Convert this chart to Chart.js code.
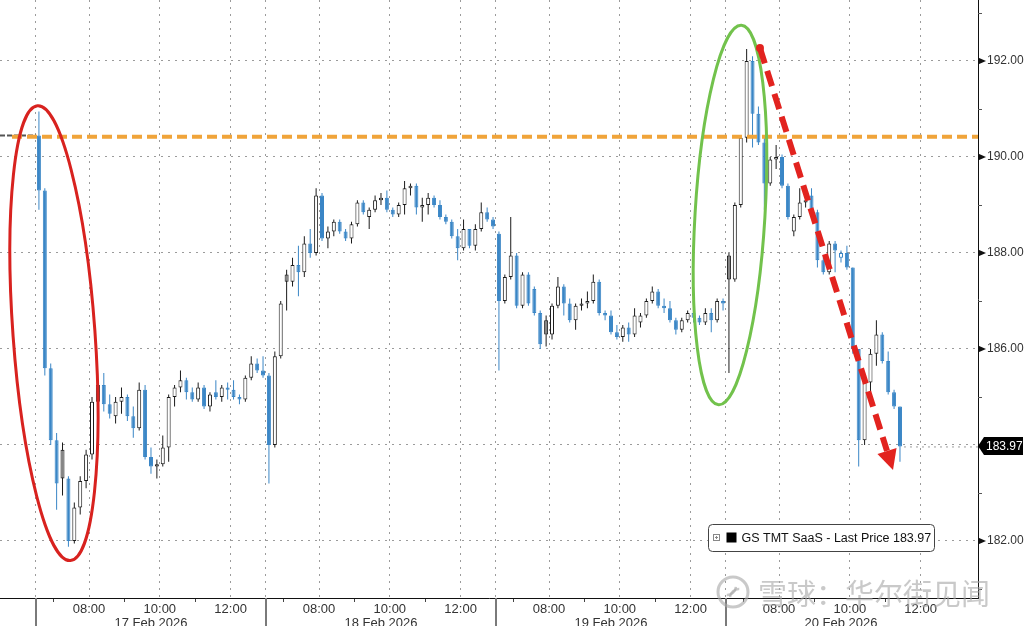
<!DOCTYPE html>
<html>
<head>
<meta charset="utf-8">
<title>GS TMT SaaS</title>
<script src="https://cdn.jsdelivr.net/npm/chart.js@4.4.1/dist/chart.umd.min.js"></script>
<style>
    html, body { margin: 0; padding: 0; background: #fff; }
    #wrap { position: relative; width: 1024px; height: 626px; }
</style>
</head>
<body>
<div id="wrap"><canvas id="priceChart" width="1024" height="626"></canvas></div>
<script>
// sessions & axis
var sessions = ['17 Feb 2026', '18 Feb 2026', '19 Feb 2026', '20 Feb 2026'];
var barsPerSession = [39, 39, 39, 30];      // 10 min bars
var sessionStart = '06:30';
var sessionLength = 390;                     // minutes per session
var barMinutes = 10;
var minorTimes = ['07:00', '09:00', '11:00'];
var labelTimes = ['08:00', '10:00', '12:00'];
var yTicks = [182, 184, 186, 188, 190, 192];

var seriesName = 'GS TMT SaaS';
var prevClose = 190.45;
var refLevel = 190.42;        // orange dashed line
var lastPrice = 183.97;

// OHLC, one row per session
var openP = [
    190.45,189.30,185.60,184.10,183.90,183.30,182.00,182.70,183.25,183.80,184.90,185.25,184.85,184.60,184.90,185.00,184.60,184.35,185.15,183.75,183.55,183.60,183.95,185.00,185.20,185.35,185.10,184.95,185.20,184.80,185.10,185.00,185.20,185.15,185.00,184.95,185.40,185.70,185.55,
    185.45,184.00,185.85,187.55,187.40,187.75,187.60,188.20,188.00,189.20,188.30,188.45,188.65,188.45,188.30,188.60,189.05,188.75,188.90,189.10,189.15,188.90,188.80,189.00,189.35,189.40,188.95,189.00,189.15,189.00,188.75,188.65,188.35,188.10,188.50,188.15,188.50,188.85,188.70,
    188.40,187.00,187.50,187.95,186.90,187.55,187.25,186.75,186.60,186.30,186.90,187.30,186.95,186.60,186.90,186.95,187.00,187.40,186.75,186.70,186.35,186.25,186.45,186.30,186.55,186.70,187.00,187.20,186.90,186.85,186.60,186.40,186.60,186.75,186.65,186.55,186.75,186.60,187.00,
    187.95,187.45,189.00,190.40,192.00,190.90,190.30,189.45,189.95,190.00,189.40,188.45,188.75,189.05,189.20,188.85,187.85,187.60,188.20,187.90,188.00,187.70,186.00,184.10,185.30,185.90,186.30,185.75,185.10,184.80
];
var highP = [
    190.95,189.35,185.70,184.25,184.05,183.35,182.80,183.35,183.90,185.00,185.30,185.50,185.05,185.00,185.20,185.05,184.80,185.30,185.25,183.95,183.70,184.20,185.05,185.25,185.55,185.40,185.20,185.30,185.25,185.10,185.35,185.25,185.30,185.35,185.05,185.45,185.85,185.80,185.85,
    185.50,185.95,187.00,187.65,187.90,188.15,188.35,188.50,189.35,189.25,188.55,188.70,188.70,188.50,188.65,189.10,189.10,188.95,189.20,189.25,189.30,188.95,189.05,189.50,189.45,189.45,189.15,189.25,189.20,189.10,188.80,188.70,188.50,188.70,188.50,188.60,189.05,188.95,188.75,
    188.45,187.55,188.75,188.00,187.60,187.60,187.30,186.80,186.70,186.95,187.50,187.35,187.05,186.95,187.05,187.20,187.55,187.45,186.80,186.80,186.50,186.50,186.55,186.85,186.75,187.05,187.30,187.25,187.05,187.00,186.65,186.65,186.80,186.90,186.70,186.85,186.85,187.05,187.05,
    188.00,189.05,190.45,192.25,192.10,191.05,190.40,190.00,190.25,190.05,189.45,188.80,189.35,189.40,189.35,188.90,187.95,188.25,188.25,188.05,188.15,187.70,186.00,185.45,186.00,186.60,186.35,185.95,185.15,184.80
];
var lowP = [
    188.90,185.45,184.00,182.65,182.95,181.88,181.95,182.55,183.10,183.70,184.85,184.70,184.55,184.45,184.65,184.50,184.15,184.30,183.70,183.40,183.30,183.55,183.65,184.80,185.10,184.95,184.90,184.90,184.75,184.70,184.95,184.90,184.95,184.95,184.85,184.90,185.35,185.50,185.40,
    183.20,183.95,185.80,186.80,187.30,187.10,187.50,187.90,187.95,188.25,188.10,188.35,188.40,188.25,188.20,188.55,188.80,188.50,188.85,189.00,188.85,188.75,188.75,188.80,189.20,188.80,188.65,188.80,188.95,188.70,188.60,188.30,187.85,188.05,188.10,188.05,188.45,188.65,188.50,
    185.55,186.95,187.45,186.85,186.85,186.90,186.70,186.00,186.05,186.20,186.85,186.70,186.55,186.40,186.80,186.85,186.95,186.70,186.60,186.30,186.20,186.15,186.15,186.25,186.45,186.65,186.95,186.85,186.75,186.55,186.30,186.35,186.55,186.55,186.50,186.50,186.35,186.55,186.80,
    185.50,187.40,188.95,190.30,190.20,190.25,188.90,189.40,189.75,189.35,188.70,188.35,188.70,188.95,188.80,187.70,187.55,187.55,187.60,187.80,187.65,185.90,183.55,184.00,185.00,185.65,185.70,185.05,184.75,183.65
];
var closeP = [
    189.30,185.60,184.10,183.20,183.30,182.00,182.70,183.25,183.80,184.90,185.25,184.85,184.65,184.90,185.00,184.60,184.35,185.15,183.75,183.55,183.60,183.95,185.00,185.20,185.35,185.10,184.95,185.20,184.80,185.05,185.00,185.20,185.15,185.00,184.95,185.40,185.70,185.55,185.45,
    184.00,185.85,186.95,187.40,187.75,187.60,188.20,188.00,189.20,188.30,188.45,188.65,188.45,188.30,188.60,189.05,188.85,188.90,189.10,189.15,188.90,188.80,189.00,189.35,189.40,188.95,189.00,189.15,189.00,188.75,188.65,188.35,188.10,188.50,188.15,188.50,188.85,188.70,188.55,
    187.00,187.50,187.95,186.90,187.55,186.95,186.75,186.10,186.30,186.90,187.30,186.95,186.60,186.90,186.95,187.00,187.40,186.75,186.70,186.35,186.25,186.45,186.30,186.70,186.70,187.00,187.20,186.90,186.85,186.60,186.40,186.60,186.75,186.65,186.55,186.75,186.60,187.00,186.95,
    187.45,189.00,190.40,192.00,190.90,190.30,189.45,189.95,190.00,189.40,188.75,188.75,189.05,189.10,188.85,187.85,187.60,188.20,188.05,188.00,187.70,186.00,184.10,185.30,185.90,186.30,185.75,185.10,184.80,183.97
];

// overlays drawn on the picture, in (minutes from first session open, price)
var redOval = { t: 30.5, p: 186.33, rt: 69.5, rp: 4.75, tilt: -0.072, color: '#d8221f' };
var greenOval = { t: 1176.8, p: 188.79, rt: 59.3, rp: 3.96, tilt: 0.06, color: '#72c24c' };
var arrow = { from: { t: 1227.6, p: 192.27 }, to: { t: 1453.2, p: 183.48 }, color: '#e2231f' };


function toMin(s) {
    var a = s.split(':'), b = sessionStart.split(':');
    return (+a[0] * 60 + +a[1]) - (+b[0] * 60 + +b[1]);
}

var barX = [];
barsPerSession.forEach(function(n, d) {
    for (var k = 0; k < n; k++) barX.push(d * sessionLength + k * barMinutes + barMinutes / 2);
});

var bodies = barX.map(function(x, i) { return { x: x, y: [openP[i], closeP[i]] }; });
var wicks = barX.map(function(x, i) { return { x: x, y: [lowP[i], highP[i]] }; });

var BLUE = '#3a86c6';
function candleStyle(i) {
    if (i === undefined) return { fill: BLUE, line: BLUE };
    var prev = i > 0 ? closeP[i - 1] : prevClose;
    var dark = closeP[i] >= prev;
    var hollow = closeP[i] >= openP[i];
    var line = dark ? '#1b1b1b' : BLUE;
    var fill = hollow ? '#ffffff' : (dark ? '#858585' : BLUE);
    return { fill: fill, line: line };
}

// tick kinds for the time axis
var tickKind = {};
sessions.forEach(function(s, d) {
    var base = d * sessionLength;
    tickKind[base] = 'session';
    minorTimes.forEach(function(t) { tickKind[base + toMin(t)] = 'minor'; });
    labelTimes.forEach(function(t) { tickKind[base + toMin(t)] = 'label'; });
});
function kindOf(ctx) {
    return ctx && ctx.tick ? tickKind[ctx.tick.value] : undefined;
}

var GRID = '#9b9b9b';
var TEXT = '#333333';

var overlays = {
    id: 'overlays',
    afterDatasetsDraw: function(chart) {
        var ctx = chart.ctx, a = chart.chartArea, x = chart.scales.x, y = chart.scales.y;
        ctx.save();
        ctx.beginPath();
        ctx.rect(a.left, a.top, a.right - a.left, a.bottom - a.top);
        ctx.clip();

        // last price dotted line to the axis
        var ly = y.getPixelForValue(lastPrice);
        ctx.strokeStyle = GRID; ctx.lineWidth = 1; ctx.setLineDash([2, 4]);
        ctx.beginPath(); ctx.moveTo(x.getPixelForValue(barX[barX.length - 1]) + 4, ly + 0.5); ctx.lineTo(a.right, ly + 0.5); ctx.stroke();

        // prior close stub
        var py = y.getPixelForValue(prevClose);
        ctx.strokeStyle = '#555'; ctx.lineWidth = 2; ctx.setLineDash([5, 2]);
        ctx.beginPath(); ctx.moveTo(a.left, py); ctx.lineTo(x.getPixelForValue(0), py); ctx.stroke();

        // orange reference line
        var ry = y.getPixelForValue(refLevel);
        ctx.strokeStyle = '#f0a43a'; ctx.lineWidth = 4; ctx.setLineDash([10, 5]);
        ctx.beginPath(); ctx.moveTo(a.left + 12, ry); ctx.lineTo(a.right, ry); ctx.stroke();

        // ovals
        [redOval, greenOval].forEach(function(o) {
            var cx = x.getPixelForValue(o.t), cy = y.getPixelForValue(o.p);
            var rx = Math.abs(x.getPixelForValue(o.t + o.rt) - cx);
            var rr = Math.abs(y.getPixelForValue(o.p + o.rp) - cy);
            ctx.setLineDash([]);
            ctx.strokeStyle = o.color; ctx.lineWidth = 3;
            ctx.beginPath(); ctx.ellipse(cx, cy, rx, rr, o.tilt, 0, Math.PI * 2); ctx.stroke();
        });

        // red dashed arrow
        var x1 = x.getPixelForValue(arrow.from.t), y1 = y.getPixelForValue(arrow.from.p);
        var x2 = x.getPixelForValue(arrow.to.t), y2 = y.getPixelForValue(arrow.to.p);
        var ang = Math.atan2(y2 - y1, x2 - x1);
        var head = 20, half = 10;
        var bx = x2 - head * Math.cos(ang), by = y2 - head * Math.sin(ang);
        ctx.strokeStyle = arrow.color; ctx.fillStyle = arrow.color;
        ctx.lineWidth = 6; ctx.setLineDash([16, 8]);
        ctx.beginPath(); ctx.moveTo(x1, y1); ctx.lineTo(bx, by); ctx.stroke();
        ctx.setLineDash([]);
        ctx.beginPath();
        ctx.moveTo(x2, y2);
        ctx.lineTo(bx + half * Math.sin(ang), by - half * Math.cos(ang));
        ctx.lineTo(bx - half * Math.sin(ang), by + half * Math.cos(ang));
        ctx.closePath(); ctx.fill();
        ctx.beginPath(); ctx.arc(x1, y1, 4, 0, Math.PI * 2); ctx.fill();
        ctx.restore();
    },
    afterDraw: function(chart) {
        var ctx = chart.ctx, a = chart.chartArea, x = chart.scales.x, y = chart.scales.y;
        var H = chart.height;
        ctx.save();

        // session separators under the axis + dates
        ctx.font = '13px "Liberation Sans", Arial, sans-serif';
        ctx.textAlign = 'center'; ctx.textBaseline = 'alphabetic';
        sessions.forEach(function(s, d) {
            var sx = Math.round(x.getPixelForValue(d * sessionLength));
            ctx.fillStyle = '#7a7a7a';
            ctx.fillRect(sx - 1, a.bottom, 2, H - a.bottom);
            ctx.fillStyle = TEXT;
            ctx.fillText(s, x.getPixelForValue(d * sessionLength + sessionLength / 2), 627);
        });

        // y axis markers: triangles on labelled ticks, short ticks on odd values
        ctx.fillStyle = '#111';
        yTicks.forEach(function(v) {
            if (Math.abs(v - lastPrice) < 0.3) return;
            var ty = y.getPixelForValue(v);
            ctx.beginPath(); ctx.moveTo(a.right, ty - 3.5); ctx.lineTo(a.right + 8, ty); ctx.lineTo(a.right, ty + 3.5); ctx.closePath(); ctx.fill();
        });
        ctx.strokeStyle = '#555'; ctx.lineWidth = 1;
        yTicks.forEach(function(v) {
            var ty = Math.round(y.getPixelForValue(v + 1)) + 0.5;
            if (ty > a.top && ty < a.bottom) { ctx.beginPath(); ctx.moveTo(a.right, ty); ctx.lineTo(a.right + 4, ty); ctx.stroke(); }
        });
        var ty0 = Math.round(y.getPixelForValue(yTicks[0] - 1)) + 0.5;
        ctx.beginPath(); ctx.moveTo(a.right, ty0); ctx.lineTo(a.right + 4, ty0); ctx.stroke();

        // last price tag
        var ly = Math.round(y.getPixelForValue(lastPrice));
        ctx.fillStyle = '#000';
        ctx.beginPath();
        ctx.moveTo(a.right, ly); ctx.lineTo(a.right + 6, ly - 9); ctx.lineTo(1023, ly - 9);
        ctx.lineTo(1023, ly + 9); ctx.lineTo(a.right + 6, ly + 9); ctx.closePath(); ctx.fill();
        ctx.fillStyle = '#fff';
        ctx.font = '12px "Liberation Sans", Arial, sans-serif';
        ctx.textAlign = 'left'; ctx.textBaseline = 'middle';
        ctx.fillText(lastPrice.toFixed(2), a.right + 8, ly + 0.5);

        // legend box
        var lx = 708.5, lt = 524.5, lw = 226, lh = 27;
        ctx.fillStyle = '#fff'; ctx.strokeStyle = '#444'; ctx.lineWidth = 1;
        ctx.beginPath(); ctx.roundRect(lx, lt, lw, lh, 4); ctx.fill(); ctx.stroke();
        ctx.strokeStyle = '#888';
        ctx.strokeRect(lx + 5, lt + 10, 6, 6);
        ctx.beginPath(); ctx.moveTo(lx + 6.5, lt + 13); ctx.lineTo(lx + 9.5, lt + 13); ctx.moveTo(lx + 8, lt + 11.5); ctx.lineTo(lx + 8, lt + 14.5); ctx.stroke();
        ctx.fillStyle = '#000';
        ctx.fillRect(lx + 18, lt + 8, 10, 10);
        ctx.fillStyle = '#111';
        ctx.font = '12.5px "Liberation Sans", Arial, sans-serif';
        ctx.textAlign = 'left'; ctx.textBaseline = 'middle';
        ctx.fillText(seriesName + ' - Last Price ' + lastPrice.toFixed(2), lx + 33, lt + 14);

        // watermark
        ctx.strokeStyle = 'rgba(165,165,165,0.6)'; ctx.fillStyle = 'rgba(165,165,165,0.6)';
        ctx.lineWidth = 3;
        ctx.beginPath(); ctx.arc(733, 592, 15, 0, Math.PI * 2); ctx.stroke();
        ctx.lineWidth = 2.5;
        ctx.beginPath(); ctx.arc(727, 586, 9, 0.1, 1.6); ctx.stroke();
        ctx.beginPath(); ctx.arc(739, 598, 9, Math.PI + 0.1, Math.PI + 1.6); ctx.stroke();
        ctx.font = '29px "Noto Sans CJK SC", sans-serif';
        ctx.textAlign = 'left'; ctx.textBaseline = 'middle';
        ctx.fillText('雪球：华尔街见闻', 758, 594);
        ctx.restore();
    }
};

Chart.defaults.font.family = '"Liberation Sans", Arial, sans-serif';

var chart = new Chart(document.getElementById('priceChart'), {
    type: 'bar',
    data: {
        datasets: [{
            label: 'body',
            data: bodies,
            order: 1,
            grouped: false,
            barThickness: 4,
            borderWidth: 1,
            borderSkipped: false,
            minBarLength: 1,
            inflateAmount: 0,
            backgroundColor: function(c) { return candleStyle(c.dataIndex).fill; },
            borderColor: function(c) { return candleStyle(c.dataIndex).line; }
        }, {
            label: 'wick',
            data: wicks,
            order: 2,
            grouped: false,
            barThickness: 1,
            borderWidth: 0,
            inflateAmount: 0,
            backgroundColor: function(c) { return candleStyle(c.dataIndex).line; }
        }]
    },
    options: {
        responsive: false,
        animation: false,
        devicePixelRatio: 1,
        layout: { padding: 0 },
        plugins: {
            legend: { display: false },
            tooltip: { enabled: false }
        },
        scales: {
            x: {
                type: 'linear',
                position: 'bottom',
                offset: false,
                min: -61,
                max: 1597.3,
                afterBuildTicks: function(scale) {
                    scale.ticks = Object.keys(tickKind).map(Number).sort(function(p, q) { return p - q; })
                        .map(function(v) { return { value: v }; });
                },
                afterFit: function(scale) {
                    scale.height = 28;
                    scale.paddingLeft = 0; scale.paddingRight = 0;
                },
                grid: {
                    offset: false,
                    color: function(c) { var k = kindOf(c); return (k === 'label' || k === 'session') ? GRID : 'rgba(0,0,0,0)'; },
                    lineWidth: 1,
                    drawTicks: true,
                    tickLength: 4,
                    tickColor: function(c) { return kindOf(c) === 'minor' ? '#444' : 'rgba(0,0,0,0)'; }
                },
                border: { display: true, color: '#111', width: 1, dash: [2, 5] },
                ticks: {
                    autoSkip: false,
                    maxRotation: 0,
                    padding: 0,
                    color: TEXT,
                    font: { size: 13 },
                    callback: function(v) { return tickKind[v] === 'label' ? labelTimes[labelTimes.map(toMin).indexOf(((v % sessionLength) + sessionLength) % sessionLength)] : ''; }
                }
            },
            y: {
                type: 'linear',
                position: 'right',
                min: 180.8125,
                max: 193.2708,
                afterBuildTicks: function(scale) {
                    scale.ticks = yTicks.map(function(v) { return { value: v }; });
                },
                afterFit: function(scale) {
                    scale.width = 46;
                    scale.paddingTop = 0; scale.paddingBottom = 0;
                },
                grid: { color: GRID, lineWidth: 1, drawTicks: false },
                border: { display: true, color: '#111', width: 1, dash: [2, 5] },
                ticks: {
                    padding: 9,
                    color: TEXT,
                    font: { size: 12 },
                    callback: function(v) { return Math.abs(v - lastPrice) < 0.3 ? '' : v.toFixed(2); }
                }
            }
        }
    },
    plugins: [overlays]
});
</script>
</body>
</html>
